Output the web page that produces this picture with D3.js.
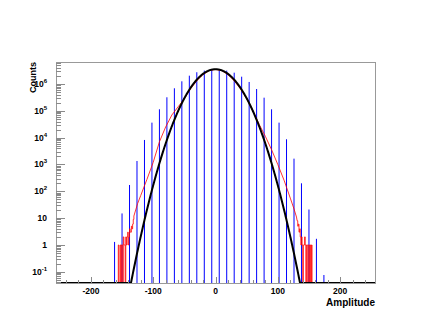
<!DOCTYPE html>
<html>
<head>
<meta charset="utf-8">
<script src="https://cdn.jsdelivr.net/npm/d3@7"></script>
<style>
  body { margin: 0; background: #fff; }
  text { font-family: "Liberation Sans", Arial, sans-serif; }
</style>
</head>
<body>
<div id="chart"></div>
<script>
// blue histogram: spikes every 12 ADC units
const blueX = [-162, -150, -138, -126, -114, -102, -90, -78, -66, -54, -42, -30, -18, -6,
               6, 18, 30, 42, 54, 66, 78, 90, 102, 114, 126, 138, 150, 162, 174];
const blueCounts = [1.3, 15, 172, 1350, 8200, 36300, 114000, 320000, 692000, 1260000, 2040000, 2740000, 3150000, 3320000,
                    3200000, 3150000, 2640000, 1870000, 1190000, 650000, 309000, 114000, 36300, 8700, 1650, 199, 21, 1.7, 0.076];

// red histogram: smooth core + noisy tails (bin width 1)
const redX = [-131, -125, -120, -110, -100, -90, -80, -70, -60, -50, -40, -30, -20, -10, 0,
              10, 20, 30, 40, 50, 60, 70, 80, 90, 100, 110, 120, 126, 130];
const redCounts = [12, 35, 70, 280, 1200, 7000, 25000, 70000, 141000, 282000, 660000, 1320000, 2240000, 3160000, 3470000,
                   3160000, 2240000, 1320000, 660000, 282000, 100000, 31600, 11200, 3550, 1000, 260, 56, 22, 11];
const redTailLeftStart = -156;
const redTailLeft = [1, 0, 0, 1, 0, 1, 1, 0, 2, 1, 1, 0, 2, 1, 2, 3, 1, 2, 4, 3, 3, 5, 4, 6, 9];
const redTailRightStart = 131;
const redTailRight = [8, 5, 6, 3, 4, 2, 1, 2, 1, 0, 1, 1, 2, 1, 0, 1, 1, 0, 1, 1, 0, 1, 0, 1];

// gaussian fit: constant, mean, sigma
const fitParams = [3550000, 0, 22.4];

const xTicks = [-200, -100, 0, 100, 200];
const yTicks = [0.1, 1, 10, 100, 1000, 10000, 100000, 1000000];

const W = 430, H = 332;
const frame = {left: 56, right: 375, top: 62, bottom: 283};

const svg = d3.select("#chart").append("svg")
    .attr("width", W)
    .attr("height", H);

const x = d3.scaleLinear().domain([-256, 256]).range([frame.left, frame.right]);
const y = d3.scaleLog().domain([0.0383, 6.6e6]).range([frame.bottom, frame.top]);
const yc = v => v <= y.domain()[0] ? frame.bottom : Math.max(frame.top, y(v));

const plot = svg.append("g");

// blue spikes
plot.selectAll(".spike")
    .data(blueX.map((d, i) => ({x: d, v: blueCounts[i]})))
  .enter().append("line")
    .attr("class", "spike")
    .attr("x1", d => x(d.x))
    .attr("x2", d => x(d.x))
    .attr("y1", frame.bottom)
    .attr("y2", d => yc(d.v))
    .attr("stroke", "#0000ff")
    .attr("stroke-width", 1);

// red histogram outline
const redPts = [[-256, 0], [redTailLeftStart, 0]];
redTailLeft.forEach((v, i) => {
    redPts.push([redTailLeftStart + i, v], [redTailLeftStart + i + 1, v]);
});
redX.forEach((d, i) => redPts.push([d, redCounts[i]]));
redTailRight.forEach((v, i) => {
    redPts.push([redTailRightStart + i, v], [redTailRightStart + i + 1, v]);
});
const rEnd = redTailRightStart + redTailRight.length;
redPts.push([rEnd, 0], [256, 0]);

plot.append("path")
    .attr("d", d3.line().x(d => x(d[0])).y(d => yc(d[1]))(redPts))
    .attr("fill", "none")
    .attr("stroke", "#ff0000")
    .attr("stroke-width", 0.8);

// fit function
const gaus = t => fitParams[0] * Math.exp(-0.5 * Math.pow((t - fitParams[1]) / fitParams[2], 2));
plot.append("path")
    .attr("d", d3.line().x(d => x(d)).y(d => yc(gaus(d)))(d3.range(-256, 256.5, 0.5)))
    .attr("fill", "none")
    .attr("stroke", "#000")
    .attr("stroke-width", 2);

// frame
svg.append("rect")
    .attr("x", frame.left + 0.5)
    .attr("y", frame.top + 0.5)
    .attr("width", frame.right - frame.left)
    .attr("height", frame.bottom - frame.top)
    .attr("fill", "none")
    .attr("stroke", "#999");

const tickColor = "#8a8a8a";

// x ticks (major every 100, minor every 20)
const xMinor = d3.range(-240, 241, 20);
svg.selectAll(".xtick")
    .data(xMinor)
  .enter().append("line")
    .attr("x1", d => Math.round(x(d)) + 0.5)
    .attr("x2", d => Math.round(x(d)) + 0.5)
    .attr("y1", frame.bottom)
    .attr("y2", d => frame.bottom - (d % 100 === 0 ? 6 : 3))
    .attr("stroke", tickColor);

svg.selectAll(".xlabel")
    .data(xTicks)
  .enter().append("text")
    .attr("x", d => x(d))
    .attr("y", 294)
    .attr("text-anchor", "middle")
    .attr("font-size", 8.5)
    .attr("font-weight", "bold")
    .text(d => d);

// y ticks
const yMinor = [];
for (let e = -2; e <= 6; e++) {
    for (let m = 1; m <= 9; m++) {
        const v = m * Math.pow(10, e);
        if (v >= y.domain()[0] && v <= y.domain()[1]) yMinor.push({v: v, major: m === 1});
    }
}
svg.selectAll(".ytick")
    .data(yMinor)
  .enter().append("line")
    .attr("x1", frame.left)
    .attr("x2", d => frame.left + (d.major ? 9 : 5))
    .attr("y1", d => Math.round(y(d.v)) + 0.5)
    .attr("y2", d => Math.round(y(d.v)) + 0.5)
    .attr("stroke", tickColor);

const ylab = svg.selectAll(".ylabel")
    .data(yTicks)
  .enter().append("text")
    .attr("x", 47)
    .attr("y", d => y(d) + 3)
    .attr("text-anchor", "end")
    .attr("font-size", 8.5)
    .attr("font-weight", "bold");

ylab.each(function(d) {
    const t = d3.select(this);
    const e = Math.round(Math.log10(d));
    if (e === 0 || e === 1) {
        t.text(d);
    } else {
        t.append("tspan").text("10");
        t.append("tspan").attr("dy", -4).attr("font-size", 6).text(e);
    }
});

// axis titles
svg.append("text")
    .attr("transform", `translate(36,${frame.top}) rotate(-90)`)
    .attr("text-anchor", "end")
    .attr("font-size", 9)
    .attr("font-weight", "bold")
    .text("Counts");

svg.append("text")
    .attr("x", frame.right)
    .attr("y", 305.5)
    .attr("text-anchor", "end")
    .attr("font-size", 10)
    .attr("font-weight", "bold")
    .text("Amplitude");
</script>
</body>
</html>
